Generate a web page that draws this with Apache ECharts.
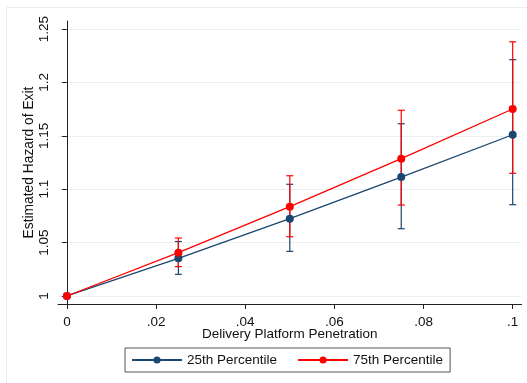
<!DOCTYPE html>
<html>
<head>
<meta charset="utf-8">
<script src="https://cdn.jsdelivr.net/npm/echarts@6/dist/echarts.min.js"></script>
<style>
  html, body { margin: 0; padding: 0; background: #fff; }
  #chart { width: 527px; height: 383px; }
</style>
</head>
<body>
<div id="chart"></div>
<script>
// penetration levels on the x axis
var penetration = [0, 0.025, 0.05, 0.075, 0.1];

// 25th percentile: point estimate and 95% CI
var p25 = [1, 1.0353, 1.0724, 1.1114, 1.151];
var p25Lo = [1, 1.0203, 1.0418, 1.063, 1.0855];
var p25Hi = [1, 1.051, 1.1046, 1.1613, 1.2213];

// 75th percentile: point estimate and 95% CI
var p75 = [1, 1.0406, 1.0836, 1.1286, 1.1751];
var p75Lo = [1, 1.0275, 1.0555, 1.0852, 1.1149];
var p75Hi = [1, 1.0543, 1.1126, 1.1739, 1.238];

// tick labels
var xTicks = [0, 0.02, 0.04, 0.06, 0.08, 0.1];
var yTicks = [1, 1.05, 1.1, 1.15, 1.2, 1.25];

var navy = '#1a476f';
var red = '#ff0000';
var font = 'Liberation Sans';

function pts(ys) {
  return penetration.map(function (x, i) { return [x, ys[i]]; });
}
function ciData(lo, hi) {
  return penetration.map(function (x, i) { return [x, lo[i], hi[i]]; });
}

function capRenderer(color) {
  return function (params, api) {
    var x = api.value(0), lo = api.value(1), hi = api.value(2);
    if (lo === hi) return null;
    var a = api.coord([x, lo]);
    var b = api.coord([x, hi]);
    var w = 3.5;
    var st = { stroke: color, lineWidth: 1.2 };
    return {
      type: 'group',
      children: [
        { type: 'line', shape: { x1: a[0], y1: a[1], x2: b[0], y2: b[1] }, style: st },
        { type: 'line', shape: { x1: a[0] - w, y1: a[1], x2: a[0] + w, y2: a[1] }, style: st },
        { type: 'line', shape: { x1: b[0] - w, y1: b[1], x2: b[0] + w, y2: b[1] }, style: st }
      ]
    };
  };
}

var myChart = echarts.init(document.getElementById('chart'));

var option = {
  backgroundColor: '#fff',
  animation: false,
  textStyle: { fontFamily: font },
  graphic: [
    {
      type: 'rect', silent: true, z: -10,
      shape: { x: 6.5, y: 7.5, width: 600, height: 500 },
      style: { fill: 'none', stroke: '#e6eeee', lineWidth: 1 }
    }
  ],
  grid: { left: 58, right: 5.4, top: 21, bottom: 79, containLabel: false },
  xAxis: {
    type: 'value',
    min: -0.002,
    max: 0.102,
    name: 'Delivery Platform Penetration',
    nameLocation: 'middle',
    nameGap: 23,
    nameMoveOverlap: false,
    nameTextStyle: { fontSize: 13.5, color: '#111', fontFamily: font },
    axisLine: { show: true, lineStyle: { color: '#222', width: 1 } },
    axisTick: { show: true, length: 5, lineStyle: { color: '#222' }, customValues: xTicks },
    axisLabel: {
      customValues: xTicks,
      margin: 11,
      fontSize: 13.5,
      color: '#111',
      fontFamily: font,
      formatter: function (v) { return v === 0 ? '0' : String(+v.toFixed(3)).replace(/^0/, ''); }
    },
    splitLine: { show: false }
  },
  yAxis: {
    type: 'value',
    min: 0.9925,
    max: 1.2575,
    name: 'Estimated Hazard of Exit',
    nameLocation: 'middle',
    nameGap: 22,
    nameMoveOverlap: false,
    nameTextStyle: { fontSize: 13.8, color: '#111', fontFamily: font },
    axisLine: { show: true, lineStyle: { color: '#222', width: 1 } },
    axisTick: { show: true, length: 5, lineStyle: { color: '#222' }, customValues: yTicks },
    axisLabel: {
      customValues: yTicks,
      rotate: 90,
      margin: 7,
      fontSize: 13.5,
      color: '#111',
      fontFamily: font,
      formatter: function (v) { return String(+v.toFixed(3)); }
    },
    splitLine: { show: true, lineStyle: { color: '#e8f0f1', width: 1 } }
  },
  legend: {
    left: 125,
    top: 348,
    padding: [5, 7, 5, 6],
    itemWidth: 50,
    itemHeight: 9,
    itemGap: 20,
    borderColor: '#555',
    borderWidth: 1,
    backgroundColor: '#fff',
    textStyle: { fontSize: 13.5, color: '#111', fontFamily: font },
    data: ['25th Percentile', '75th Percentile']
  },
  series: [
    {
      name: '25th Percentile',
      type: 'line',
      data: pts(p25),
      color: navy,
      symbol: 'circle',
      symbolSize: 8,
      lineStyle: { color: navy, width: 1.3 },
      itemStyle: { color: navy },
      z: 3
    },
    {
      name: '75th Percentile',
      type: 'line',
      data: pts(p75),
      color: red,
      symbol: 'circle',
      symbolSize: 8,
      lineStyle: { color: red, width: 1.3 },
      itemStyle: { color: red },
      z: 4
    },
    {
      name: 'ci25',
      type: 'custom',
      data: ciData(p25Lo, p25Hi),
      renderItem: capRenderer(navy),
      encode: { x: 0, y: [1, 2] },
      z: 2
    },
    {
      name: 'ci75',
      type: 'custom',
      data: ciData(p75Lo, p75Hi),
      renderItem: capRenderer(red),
      encode: { x: 0, y: [1, 2] },
      z: 2
    }
  ]
};

myChart.setOption(option);
</script>
</body>
</html>
